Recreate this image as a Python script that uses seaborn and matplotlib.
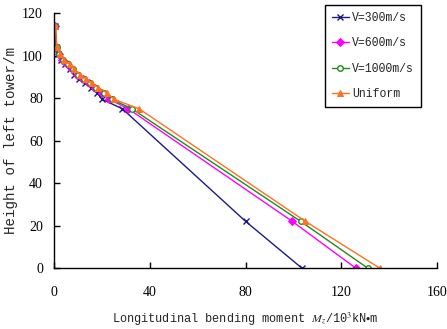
import numpy as np
import pandas as pd
import seaborn as sns
import matplotlib
matplotlib.use("Agg")
import matplotlib.pyplot as plt

sns.set_theme(style="ticks")
plt.rcParams["font.family"] = ["Liberation Serif", "DejaVu Serif"]
plt.rcParams["mathtext.fontset"] = "stix"
plt.rcParams["xtick.direction"] = "in"
plt.rcParams["ytick.direction"] = "in"

# height of tower nodes (m)
height = [114, 104, 101, 98, 96, 93.5, 91, 89, 87, 85, 82.5, 79.5, 75, 22, 0]

# longitudinal bending moment (10^3 kN*m)
v300 = [0.3, 0.8, 1.5, 3.0, 4.5, 6.5, 8.5, 10.5, 13.0, 15.5, 18.0, 20.0, 28.5, 80.0, 103.5]
v600 = [0.4, 1.0, 2.0, 3.5, 5.5, 7.5, 9.5, 12.0, 14.5, 17.0, 20.0, 23.0, 31.0, 99.5, 126.0]
v1000 = [0.5, 1.1, 2.2, 3.8, 6.0, 8.0, 10.0, 12.5, 15.0, 17.5, 21.0, 24.0, 32.5, 103.0, 131.0]
uniform = [0.5, 1.2, 2.4, 4.0, 6.5, 8.5, 11.0, 13.5, 16.0, 18.5, 22.0, 25.0, 35.5, 105.0, 136.0]

labels = ["V=300m/s", "V=600m/s", "V=1000m/s", "Uniform"]
series = [v300, v600, v1000, uniform]
colors = ["#1a1a8c", "#ff00ff", "#1e8c1e", "#ff7020"]
marks = ["x", "D", "o", "^"]

mono = ["Liberation Mono", "DejaVu Sans Mono"]

fig = plt.figure(figsize=(4.47, 3.29), dpi=100)
ax = fig.add_axes([0.121, 0.185, 0.857, 0.775])

for lab, vals, c, m in zip(labels, series, colors, marks):
    df = pd.DataFrame({"moment": vals, "height": height})
    kw = dict(markersize=4, markeredgecolor=c)
    if m == "o":
        kw.update(markerfacecolor="white", markeredgewidth=1.0)
    elif m == "x":
        kw.update(markeredgewidth=1.0)
    sns.lineplot(data=df, x="moment", y="height", color=c, marker=m, sort=False,
                 estimator=None, linewidth=1.0, label=lab, ax=ax, **kw)

ax.set_xlim(0, 160)
ax.set_ylim(0, 120)
ax.set_xticks([0, 40, 80, 120, 160])
ax.set_yticks([0, 20, 40, 60, 80, 100, 120])
ax.tick_params(labelsize=10, length=4, width=1, colors="black")
ax.tick_params(axis="x", pad=13)
ax.tick_params(axis="y", pad=8)
sns.despine(ax=ax)
for s in ["left", "bottom"]:
    ax.spines[s].set_color("black")
    ax.spines[s].set_linewidth(1.0)

ax.set_xlabel(r"Longitudinal bending moment $M_z$/10$^3$kN$\bullet$m",
              fontsize=8.6, family=mono, labelpad=8)
ax.set_ylabel("Height of left tower/m", fontsize=10.2, family=mono)
ax.yaxis.set_label_coords(-0.095, 0.5)

leg = ax.legend(loc="upper right", bbox_to_anchor=(0.958, 1.031), borderaxespad=0,
                frameon=True, fancybox=False, edgecolor="black", framealpha=1,
                prop={"family": mono, "size": 8.3},
                handlelength=1.5, borderpad=0.6, labelspacing=1.15, handletextpad=0.3)
leg.get_frame().set_linewidth(1.0)

fig.savefig("out.png", dpi=100)
